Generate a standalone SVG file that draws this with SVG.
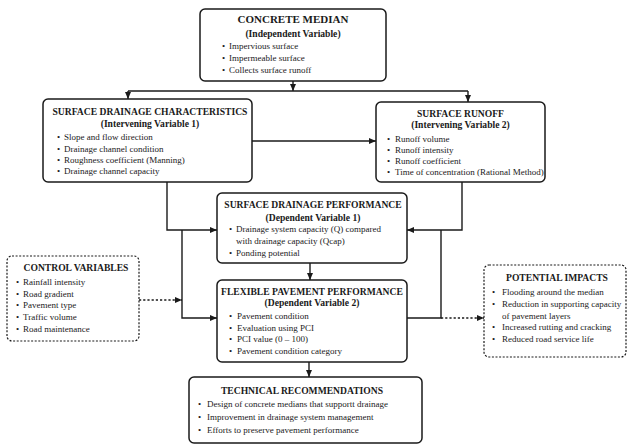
<svg xmlns="http://www.w3.org/2000/svg" width="628" height="446" viewBox="0 0 628 446">
<defs>
<marker id="ah" markerUnits="userSpaceOnUse" markerWidth="7" markerHeight="6" refX="7" refY="3" orient="auto">
<path d="M0,0 L7,3 L0,6 z" fill="#1a1a1a"/>
</marker>
<style>
.box{fill:#fff;stroke:#1a1a1a;stroke-width:1.5}
.dbox{fill:#fff;stroke:#1a1a1a;stroke-width:1.2;stroke-dasharray:2,1.6}
.ln{fill:none;stroke:#1a1a1a;stroke-width:1.4}
.dl{fill:none;stroke:#1a1a1a;stroke-width:1.3;stroke-dasharray:2.2,2}
text{font-family:"Liberation Serif","Times New Roman",serif;fill:#1a1a1a}
.t1{font-size:11px;font-weight:bold;text-anchor:middle}
.t{font-size:9.6px;font-weight:bold;text-anchor:middle}
.b{font-size:9px}
</style>
</defs>
<rect width="628" height="446" fill="#fff"/>
<g id="connectors">
<path class="ln" d="M293,81 V91" marker-end="url(#ah)"/>
<path class="ln" d="M128,91 H468"/>
<path class="ln" d="M128,91 V99" marker-end="url(#ah)"/>
<path class="ln" d="M468,91 V102" marker-end="url(#ah)"/>
<path class="ln" d="M252,141 H376" marker-end="url(#ah)"/>
<path class="ln" d="M167,182 V230 H217" marker-end="url(#ah)"/>
<path class="ln" d="M182,230 V318 H217" marker-end="url(#ah)"/>
<path class="ln" d="M462,182 V230 H407" marker-end="url(#ah)"/>
<path class="ln" d="M441,230 V318 H407"/>
<path class="ln" d="M310,263 V280" marker-end="url(#ah)"/>
<path class="ln" d="M309,362 V377" marker-end="url(#ah)"/>
<path class="dl" d="M139,300 H182" marker-end="url(#ah)"/>
<path class="dl" d="M441,318 H484" marker-end="url(#ah)"/>
</g>
<g id="concrete-median">
<rect class="box" x="200" y="9" width="186" height="72" rx="5"/>
<text class="t1" x="293" y="23">CONCRETE MEDIAN</text>
<text class="t" x="293" y="36.5">(Independent Variable)</text>
<text class="b" x="222" y="49">•</text><text class="b" x="229" y="49">Impervious surface</text>
<text class="b" x="222" y="61">•</text><text class="b" x="229" y="61">Impermeable surface</text>
<text class="b" x="222" y="73">•</text><text class="b" x="229" y="73">Collects surface runoff</text>
</g>
<g id="surface-drainage-characteristics">
<rect class="box" x="43" y="99" width="209" height="83" rx="5"/>
<text class="t" x="150" y="114.5">SURFACE DRAINAGE CHARACTERISTICS</text>
<text class="t" x="150" y="126.5">(Intervening Variable 1)</text>
<text class="b" x="57" y="140">•</text><text class="b" x="64" y="140">Slope and flow direction</text>
<text class="b" x="57" y="152">•</text><text class="b" x="64" y="152">Drainage channel condition</text>
<text class="b" x="57" y="163">•</text><text class="b" x="64" y="163">Roughness coefficient (Manning)</text>
<text class="b" x="57" y="174">•</text><text class="b" x="64" y="174">Drainage channel capacity</text>
</g>
<g id="surface-runoff">
<rect class="box" x="376" y="102" width="169" height="80" rx="5"/>
<text class="t" x="460.5" y="116.5">SURFACE RUNOFF</text>
<text class="t" x="460.5" y="127.5">(Intervening Variable 2)</text>
<text class="b" x="387" y="142">•</text><text class="b" x="395" y="142">Runoff volume</text>
<text class="b" x="387" y="153">•</text><text class="b" x="395" y="153">Runoff intensity</text>
<text class="b" x="387" y="164">•</text><text class="b" x="395" y="164">Runoff coefficient</text>
<text class="b" x="387" y="175">•</text><text class="b" x="395" y="175">Time of concentration (Rational Method)</text>
</g>
<g id="surface-drainage-performance">
<rect class="box" x="217" y="193" width="190" height="70" rx="5"/>
<text class="t" x="313" y="207.5">SURFACE DRAINAGE PERFORMANCE</text>
<text class="t" x="313" y="220.5">(Dependent Variable 1)</text>
<text class="b" x="229" y="232">•</text><text class="b" x="236" y="232">Drainage system capacity (Q) compared</text>
<text class="b" x="236" y="244">with drainage capacity (Qcap)</text>
<text class="b" x="229" y="256">•</text><text class="b" x="236" y="256">Ponding potential</text>
</g>
<g id="flexible-pavement-performance">
<rect class="box" x="217" y="280" width="190" height="82" rx="5"/>
<text class="t" x="312" y="294.5">FLEXIBLE PAVEMENT PERFORMANCE</text>
<text class="t" x="312" y="305.5">(Dependent Variable 2)</text>
<text class="b" x="229" y="319">•</text><text class="b" x="237" y="319">Pavement condition</text>
<text class="b" x="229" y="331">•</text><text class="b" x="237" y="331">Evaluation using PCI</text>
<text class="b" x="229" y="342">•</text><text class="b" x="237" y="342">PCI value (0 – 100)</text>
<text class="b" x="229" y="354">•</text><text class="b" x="237" y="354">Pavement condition category</text>
</g>
<g id="technical-recommendations">
<rect class="box" x="189" y="377" width="233" height="66" rx="5"/>
<text class="t" x="302" y="393.5">TECHNICAL RECOMMENDATIONS</text>
<text class="b" x="198" y="407">•</text><text class="b" x="207" y="407">Design of concrete medians that supportt drainage</text>
<text class="b" x="198" y="420">•</text><text class="b" x="207" y="420">Improvement in drainage system management</text>
<text class="b" x="198" y="433">•</text><text class="b" x="207" y="433">Efforts to preserve pavement performance</text>
</g>
<g id="control-variables">
<rect class="dbox" x="7" y="256" width="132" height="85" rx="5"/>
<text class="t" x="76" y="270.5">CONTROL VARIABLES</text>
<text class="b" x="16" y="285">•</text><text class="b" x="23" y="285">Rainfall intensity</text>
<text class="b" x="16" y="297">•</text><text class="b" x="23" y="297">Road gradient</text>
<text class="b" x="16" y="308">•</text><text class="b" x="23" y="308">Pavement type</text>
<text class="b" x="16" y="320">•</text><text class="b" x="23" y="320">Traffic volume</text>
<text class="b" x="16" y="332">•</text><text class="b" x="23" y="332">Road maintenance</text>
</g>
<g id="potential-impacts">
<rect class="dbox" x="484" y="265" width="142" height="92" rx="5"/>
<text class="t" x="557" y="280.5">POTENTIAL IMPACTS</text>
<text class="b" x="492" y="295">•</text><text class="b" x="502" y="295">Flooding around the median</text>
<text class="b" x="492" y="307">•</text><text class="b" x="502" y="307">Reduction in supporting capacity</text>
<text class="b" x="502" y="319">of pavement layers</text>
<text class="b" x="492" y="330">•</text><text class="b" x="502" y="330">Increased rutting and cracking</text>
<text class="b" x="492" y="342">•</text><text class="b" x="502" y="342">Reduced road service life</text>
</g>
</svg>
